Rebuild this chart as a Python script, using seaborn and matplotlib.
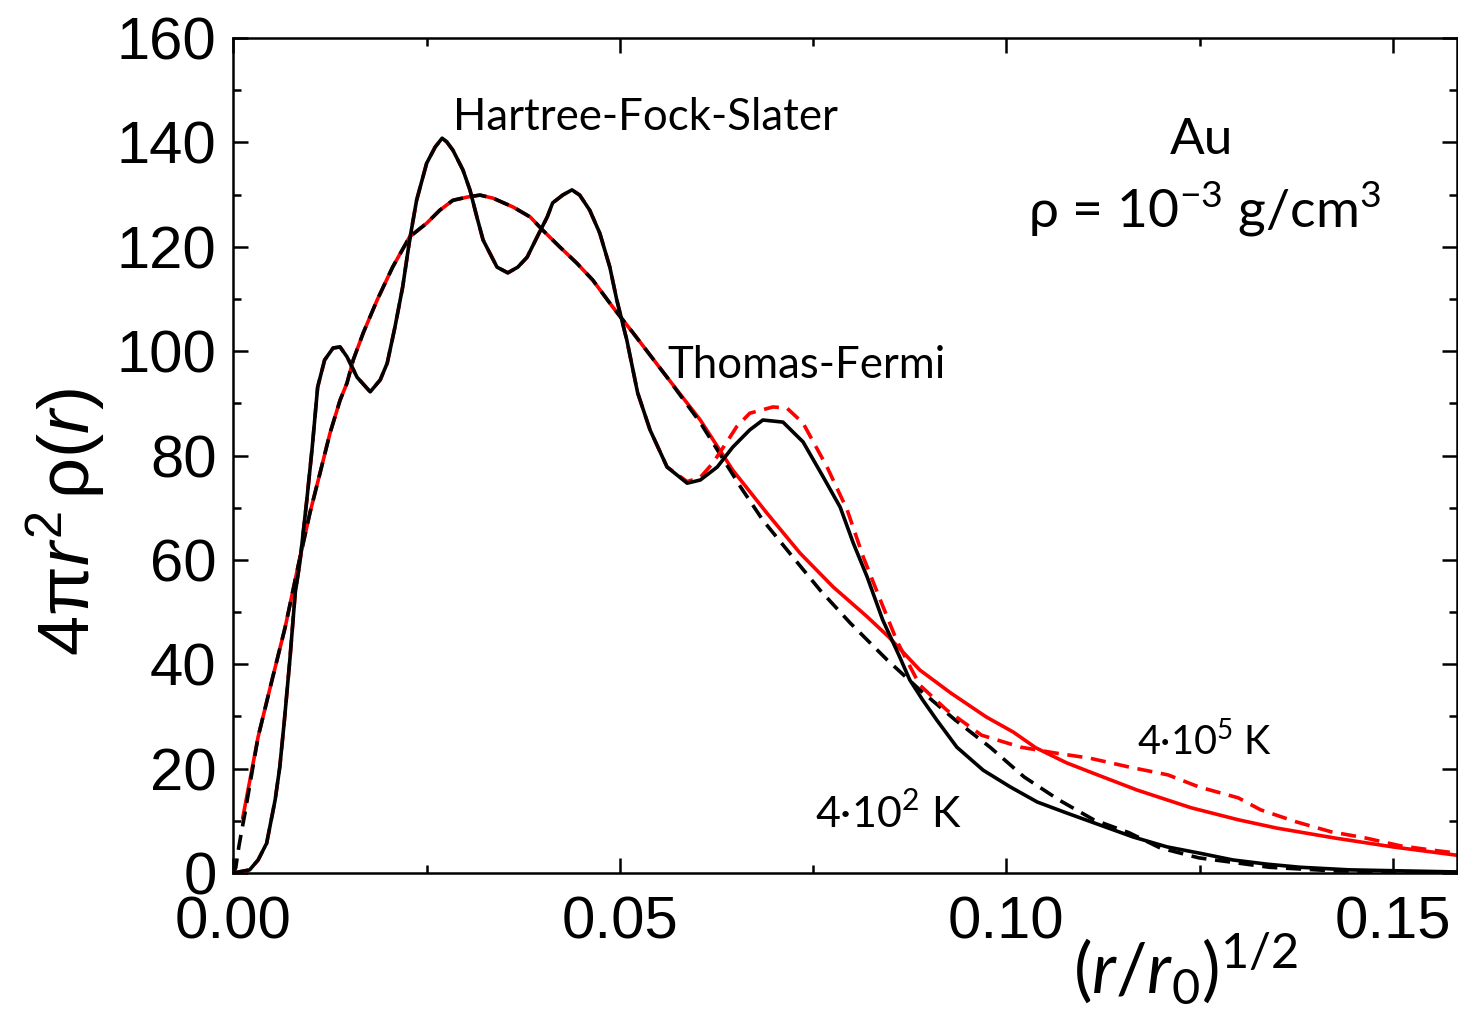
import matplotlib
matplotlib.use("Agg")
import matplotlib.pyplot as plt
import seaborn as sns
from matplotlib.ticker import MultipleLocator, FormatStrFormatter

# ---------------- data ----------------
# Hartree-Fock-Slater, T = 4e2 K (black solid)
hfs_cold_x = [0.0, 0.0021, 0.0032, 0.0043, 0.0054, 0.0060, 0.0066, 0.0073, 0.0080, 0.0086,
              0.0095, 0.0102, 0.0109, 0.0118, 0.0129, 0.0138, 0.0147, 0.0160, 0.0177, 0.0190,
              0.0199, 0.0209, 0.0219, 0.0228, 0.0237, 0.0250, 0.0261, 0.0270, 0.0276, 0.0284,
              0.0297, 0.0306, 0.0315, 0.0323, 0.0341, 0.0355, 0.0368, 0.0380, 0.0393, 0.0406,
              0.0413, 0.0426, 0.0438, 0.0448, 0.0461, 0.0474, 0.0487, 0.0496, 0.0509, 0.0523,
              0.0539, 0.0561, 0.0587, 0.0604, 0.0626, 0.0646, 0.0668, 0.0685, 0.0711, 0.0737,
              0.0763, 0.0785, 0.0802, 0.0820, 0.0840, 0.0862, 0.0875, 0.0892, 0.0910, 0.0936,
              0.0970, 0.1005, 0.1040, 0.1078, 0.1121, 0.1164, 0.1208, 0.1250, 0.1293, 0.1337,
              0.1380, 0.1444, 0.1583]
hfs_cold_y = [0.0, 0.6, 2.5, 5.7, 14.0, 20.3, 29.3, 40.8, 53.7, 59.5,
              71.5, 81.6, 93.1, 98.3, 100.6, 100.8, 98.9, 95.0, 92.2, 94.5,
              97.7, 104.6, 112.3, 121.3, 128.9, 136.0, 139.1, 140.8, 140.1, 138.5,
              134.7, 130.9, 125.7, 121.3, 116.1, 115.0, 116.1, 118.0, 121.9, 125.7,
              128.4, 129.9, 130.9, 129.9, 127.0, 122.6, 116.1, 109.8, 102.1, 92.0,
              84.9, 77.8, 74.7, 75.3, 77.8, 81.6, 84.9, 86.8, 86.4, 82.6,
              75.9, 70.1, 63.2, 56.7, 48.5, 41.4, 37.0, 33.1, 29.3, 24.1,
              19.7, 16.5, 13.6, 11.5, 9.2, 6.9, 5.0, 3.8, 2.5, 1.7,
              1.1, 0.6, 0.2]

# Hartree-Fock-Slater, T = 4e5 K (red dashed)
hfs_hot_x = [0.0, 0.0021, 0.0032, 0.0043, 0.0054, 0.0060, 0.0066, 0.0073, 0.0080, 0.0086,
             0.0095, 0.0102, 0.0109, 0.0118, 0.0129, 0.0138, 0.0147, 0.0160, 0.0177, 0.0190,
             0.0199, 0.0209, 0.0219, 0.0228, 0.0237, 0.0250, 0.0261, 0.0270, 0.0276, 0.0284,
             0.0297, 0.0306, 0.0315, 0.0323, 0.0341, 0.0355, 0.0368, 0.0380, 0.0393, 0.0406,
             0.0413, 0.0426, 0.0438, 0.0448, 0.0461, 0.0474, 0.0487, 0.0496, 0.0509, 0.0523,
             0.0539, 0.0561, 0.0587, 0.0604, 0.0620, 0.0638, 0.0651, 0.0668, 0.0698, 0.0716,
             0.0737, 0.0768, 0.0794, 0.0815, 0.0837, 0.0858, 0.0871, 0.0888, 0.0923, 0.0968,
             0.1019, 0.1063, 0.1108, 0.1159, 0.1209, 0.1249, 0.1300, 0.1329, 0.1375, 0.1420,
             0.1465, 0.1510, 0.1550, 0.1583]
hfs_hot_y = [0.0, 0.6, 2.5, 5.7, 14.0, 20.3, 29.3, 40.8, 53.7, 59.5,
             71.5, 81.6, 93.1, 98.3, 100.6, 100.8, 98.9, 95.0, 92.2, 94.5,
             97.7, 104.6, 112.3, 121.3, 128.9, 136.0, 139.1, 140.8, 140.1, 138.5,
             134.7, 130.9, 125.7, 121.3, 116.1, 115.0, 116.1, 118.0, 121.9, 125.7,
             128.4, 129.9, 130.9, 129.9, 127.0, 122.6, 116.1, 109.8, 102.1, 92.0,
             84.9, 77.8, 75.0, 75.8, 78.5, 82.5, 85.5, 88.1, 89.3, 89.1,
             86.2, 77.8, 69.6, 60.5, 52.3, 44.6, 40.8, 36.0, 31.2, 26.4,
             24.1, 23.0, 22.0, 20.3, 18.8, 16.5, 14.4, 12.1, 9.8, 7.9,
             6.7, 5.2, 4.4, 3.8]

# Thomas-Fermi, T = 4e2 K (black dashed)
tf_cold_x = [0.0, 0.0003, 0.0007, 0.0010, 0.0015, 0.0032, 0.0050, 0.0067, 0.0084, 0.0099,
             0.0112, 0.0125, 0.0138, 0.0147, 0.0155, 0.0168, 0.0186, 0.0206, 0.0228, 0.0250,
             0.0267, 0.0284, 0.0302, 0.0319, 0.0336, 0.0362, 0.0384, 0.0400, 0.0422, 0.0444,
             0.0465, 0.0491, 0.0517, 0.0561, 0.0604, 0.0656, 0.0685, 0.0724, 0.0759, 0.0798,
             0.0846, 0.0888, 0.0934, 0.0979, 0.1023, 0.1068, 0.1113, 0.1159, 0.1199, 0.1249,
             0.1300, 0.1340, 0.1425, 0.1583]
tf_cold_y = [0.0, 1.0, 5.0, 7.5, 11.5, 26.1, 37.0, 47.1, 59.0, 69.0,
             76.6, 84.3, 90.6, 93.9, 98.3, 103.5, 109.8, 116.1, 121.9, 124.5,
             127.0, 128.9, 129.5, 129.9, 129.3, 127.6, 125.7, 123.2, 120.0, 116.9,
             113.6, 108.4, 103.5, 95.0, 86.3, 74.0, 67.6, 60.5, 54.2, 47.9,
             40.8, 35.1, 29.3, 24.1, 18.4, 14.0, 10.2, 7.7, 4.8, 2.9,
             1.9, 1.1, 0.4, 0.1]

# Thomas-Fermi, T = 4e5 K (red solid)
tf_hot_x = [0.0012, 0.0032, 0.0050, 0.0067, 0.0084, 0.0099, 0.0112, 0.0125, 0.0138, 0.0147,
            0.0155, 0.0168, 0.0186, 0.0206, 0.0228, 0.0250, 0.0267, 0.0284, 0.0302, 0.0319,
            0.0336, 0.0362, 0.0384, 0.0400, 0.0422, 0.0444, 0.0465, 0.0491, 0.0517, 0.0561,
            0.0604, 0.0646, 0.0690, 0.0733, 0.0776, 0.0820, 0.0848, 0.0888, 0.0928, 0.0974,
            0.1009, 0.1038, 0.1078, 0.1118, 0.1169, 0.1239, 0.1300, 0.1350, 0.1425, 0.1500,
            0.1583]
tf_hot_y = [10.5, 26.1, 37.0, 47.1, 59.0, 69.0, 76.6, 84.3, 90.6, 93.9,
            98.3, 103.5, 109.8, 116.1, 121.9, 124.5, 127.0, 128.9, 129.5, 129.9,
            129.3, 127.6, 125.7, 123.2, 120.0, 116.9, 113.6, 108.4, 103.5, 95.0,
            86.8, 77.2, 69.0, 61.3, 54.8, 49.1, 45.2, 38.9, 34.5, 29.9,
            27.0, 24.0, 21.1, 18.8, 15.9, 12.5, 10.2, 8.6, 6.7, 5.0,
            3.4]

x_ticks = [0.00, 0.05, 0.10, 0.15]
y_ticks = [0, 20, 40, 60, 80, 100, 120, 140, 160]

# ---------------- style ----------------
sns.set_theme(style="ticks")
plt.rcParams["font.family"] = ["Liberation Sans", "DejaVu Sans"]
plt.rcParams["mathtext.fontset"] = "custom"
plt.rcParams["mathtext.rm"] = "Lato"
plt.rcParams["mathtext.it"] = "Liberation Sans:italic"
plt.rcParams["mathtext.sf"] = "Liberation Sans"
plt.rcParams["mathtext.cal"] = "Lato:italic"
plt.rcParams["axes.linewidth"] = 1.8
plt.rcParams["text.color"] = "black"
plt.rcParams["axes.labelcolor"] = "black"
plt.rcParams["xtick.color"] = "black"
plt.rcParams["ytick.color"] = "black"
plt.rcParams["xtick.labelcolor"] = "black"
plt.rcParams["ytick.labelcolor"] = "black"

fig = plt.figure(figsize=(14.58, 10.23), dpi=100)
ax = fig.add_axes([233.4 / 1458, 150 / 1023, (1457 - 233.4) / 1458, 835 / 1023])

lw = 2.6
dash = (0, (4.2, 2.4))
sns.lineplot(x=tf_hot_x, y=tf_hot_y, ax=ax, color="#ff0000", linewidth=lw, zorder=2)
sns.lineplot(x=tf_cold_x, y=tf_cold_y, ax=ax, color="black", linewidth=lw, linestyle=dash, zorder=3)
sns.lineplot(x=hfs_hot_x, y=hfs_hot_y, ax=ax, color="#ff0000", linewidth=lw, linestyle=dash, zorder=4)
sns.lineplot(x=hfs_cold_x, y=hfs_cold_y, ax=ax, color="black", linewidth=lw, zorder=5)

ax.set_xlim(0, 0.1583)
ax.set_ylim(0, 160)
ax.set_xticks(x_ticks)
ax.set_yticks(y_ticks)
ax.xaxis.set_major_formatter(FormatStrFormatter("%.2f"))
ax.xaxis.set_minor_locator(MultipleLocator(0.025))
ax.yaxis.set_minor_locator(MultipleLocator(10))
for s in ax.spines.values():
    s.set_visible(True)
    s.set_color("black")
    s.set_linewidth(1.8)
ax.tick_params(which="both", direction="in", top=True, right=True, color="black", width=1.8)
ax.tick_params(which="major", length=10.5)
ax.tick_params(which="minor", length=5.5)
ax.tick_params(axis="x", which="major", labelsize=43, pad=16, labelcolor="black")
ax.tick_params(axis="y", which="major", labelsize=43, pad=12, labelcolor="black")

ax.set_ylabel(r"$\mathsf{4π}r^{\mathsf{2}}\,\mathsf{ρ(}r\mathsf{)}$", fontsize=52, color="black")
ax.yaxis.set_label_coords(-0.103, 0.42)
ax.set_xlabel(r"$(\mathcal{r}/\mathcal{r}_{0})^{1/2}$", fontsize=50, color="black")
ax.xaxis.set_label_coords(0.778, -0.115)
ax.xaxis.label.set_va("center")

tkw = dict(family=["Lato", "DejaVu Sans"], color="black")
ax.text(0.0284, 142.4, "Hartree-Fock-Slater", fontsize=31.5, va="baseline", ha="left", **tkw)
ax.text(0.0561, 94.8, "Thomas-Fermi", fontsize=31.5, va="baseline", ha="left", **tkw)
ax.text(0.1253, 137.8, "Au", fontsize=37, va="baseline", ha="center", **tkw)
ax.text(0.1257, 123.6, r"ρ = 10$^{\mathrm{-3}}$ g/cm$^{\mathrm{3}}$", fontsize=38.5, va="baseline", ha="center", **tkw)
ax.text(0.1169, 22.6, r"4·10$^{\mathrm{5}}$ K", fontsize=28.5, va="baseline", ha="left", **tkw)
ax.text(0.0752, 8.6, r"4·10$^{\mathrm{2}}$ K", fontsize=31, va="baseline", ha="left", **tkw)

fig.savefig("out.png", dpi=100, facecolor="white")
